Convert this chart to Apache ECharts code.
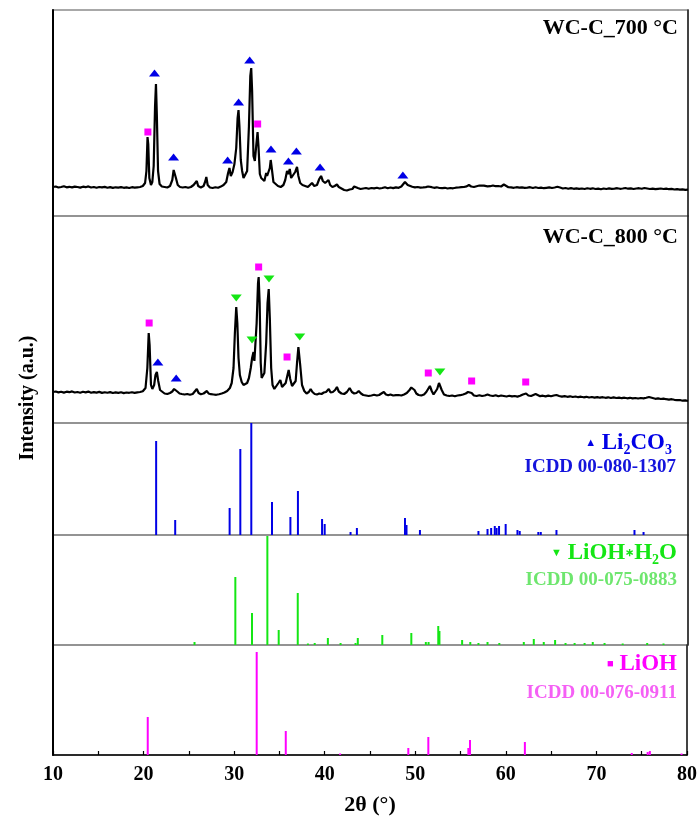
<!DOCTYPE html>
<html><head><meta charset="utf-8">
<script src="https://cdn.jsdelivr.net/npm/echarts@6/dist/echarts.min.js"></script>
<style>html,body{margin:0;padding:0;background:#fff}#c{width:700px;height:818px}</style>
</head><body><div id="c"></div>
<script>
// x-axis tick labels (2θ)
const xTickLabels = [10, 20, 30, 40, 50, 60, 70, 80];

// WC-C_700 °C pattern [2θ, intensity a.u.]
const wc700 = [[10.0,29],[10.3,29.5],[10.6,28.5],[10.9,29],[11.2,29.8],[11.5,28.7],[11.8,29.2],[12.1,28.6],[12.4,29.4],[12.7,29],[13.0,28.4],[13.3,29.3],[13.6,28.8],[13.9,29.6],[14.2,28.5],[14.5,29],[14.8,28.2],[15.1,29],[15.4,28.6],[15.7,29.1],[16.0,28.3],[16.3,28.9],[16.6,28.1],[16.9,28.7],[17.2,28.4],[17.5,28.9],[17.8,28.2],[18.1,28.6],[18.4,28],[18.7,28.8],[19.0,28.3],[19.3,28.7],[19.6,29],[19.9,30],[20.15,33],[20.3,45],[20.42,79],[20.5,72],[20.62,38],[20.8,31],[20.95,34],[21.1,50],[21.25,110],[21.35,132],[21.45,100],[21.58,45],[21.75,32],[22.0,29.5],[22.3,29],[22.6,28.5],[22.9,30],[23.15,36],[23.3,46],[23.42,48],[23.55,38],[23.75,31],[24.0,29],[24.3,28.5],[24.6,29],[24.9,28.2],[25.2,29],[25.5,31],[25.7,33],[25.85,35],[26.0,30],[26.3,28.5],[26.6,30],[26.8,35],[26.9,39],[27.05,31],[27.3,28.5],[27.6,28],[27.9,28.8],[28.2,28.2],[28.5,29.4],[28.8,31],[29.1,34],[29.3,43],[29.45,48],[29.6,40],[29.8,44],[30.0,52],[30.2,68],[30.35,98],[30.45,106],[30.55,90],[30.7,56],[30.85,45],[31.0,38],[31.2,36],[31.4,45],[31.6,90],[31.75,140],[31.85,148],[31.95,125],[32.1,60],[32.25,55],[32.4,70],[32.55,84],[32.65,70],[32.8,42],[32.95,38],[33.1,37],[33.3,35],[33.5,43],[33.6,40],[33.75,38],[33.9,48],[34.0,56],[34.1,49],[34.3,34],[34.5,32],[34.8,30],[35.1,29],[35.4,31],[35.6,36],[35.8,45],[35.95,42],[36.1,47],[36.25,38],[36.45,36],[36.7,44],[36.9,49],[37.05,40],[37.25,33],[37.5,31],[37.8,30],[38.1,29],[38.3,31],[38.55,33],[38.8,30],[39.1,31],[39.35,37],[39.55,40],[39.75,35],[40.0,33],[40.2,34],[40.37,36],[40.55,31],[40.8,29],[41.05,30],[41.3,31.5],[41.5,29],[41.8,27.5],[42.1,26],[42.4,25.5],[42.7,26.5],[43.0,27],[43.2,29.5],[43.4,31.5],[43.6,28],[43.9,27],[44.2,27.5],[44.5,28],[44.8,27.2],[45.1,28],[45.4,27.6],[45.7,28.3],[46.0,27.5],[46.3,28],[46.6,28.8],[46.9,27.8],[47.2,28.5],[47.5,27.9],[47.8,28.6],[48.1,28.2],[48.4,29.5],[48.6,31],[48.8,34],[48.95,32],[49.1,31],[49.3,30],[49.6,29.2],[49.9,28.6],[50.2,29],[50.5,28.4],[50.8,28.6],[51.1,28.9],[51.35,29.5],[51.55,30.5],[51.75,28.8],[52.0,28.2],[52.3,28.7],[52.6,28],[52.9,27.8],[53.2,28.2],[53.5,27.5],[53.8,28],[54.1,27.7],[54.4,28.3],[54.7,28.5],[55.0,28.8],[55.3,29],[55.6,29.6],[55.85,31],[56.1,29.5],[56.4,29],[56.7,29.8],[57.0,30.5],[57.2,29.4],[57.5,30.3],[57.7,31],[57.9,29.6],[58.2,29.8],[58.5,30.5],[58.8,29.8],[59.1,30],[59.4,29.5],[59.7,31.5],[59.9,29.5],[60.2,28.8],[60.5,28.6],[60.8,28.2],[61.1,28.8],[61.4,28.4],[61.7,28.6],[62.0,28.2],[62.3,28.3],[62.6,28.8],[62.9,28],[63.2,28.7],[63.5,28],[63.8,28.4],[64.1,27.8],[64.4,28.2],[64.7,28.6],[65.0,28],[65.3,28.5],[65.6,29.2],[65.9,28.5],[66.2,27.5],[66.5,28],[66.8,27.3],[67.1,27.9],[67.4,27.2],[67.7,27.6],[68.0,27.1],[68.3,27.5],[68.6,27],[68.9,27.8],[69.2,27.2],[69.5,27.7],[69.8,27],[70.1,27.4],[70.4,26.8],[70.7,27.5],[71.0,27],[71.3,27.6],[71.6,27.1],[71.9,27.4],[72.2,27.8],[72.5,27.2],[72.8,27.5],[73.1,28],[73.4,27.3],[73.7,27.6],[74.0,27],[74.3,27.5],[74.6,27.8],[74.9,27.2],[75.2,28],[75.5,27.5],[75.8,27],[76.1,27.3],[76.4,26.8],[76.7,27.2],[77.0,27.5],[77.3,27],[77.6,27.4],[77.9,26.8],[78.2,27.1],[78.5,26.5],[78.8,26.8],[79.1,26.3],[79.4,26.7],[79.7,26.2],[80.0,26.4]];

// WC-C_800 °C pattern
const wc800 = [[10.0,31],[10.3,31.5],[10.6,30.6],[10.9,31.2],[11.2,30.4],[11.5,31.3],[11.8,30.8],[12.1,31.6],[12.4,30.5],[12.7,31],[13.0,30.3],[13.3,31.2],[13.6,30.6],[13.9,31.4],[14.2,30.2],[14.5,30.9],[14.8,30.4],[15.1,31.1],[15.4,30.1],[15.7,30.8],[16.0,30.2],[16.3,30.9],[16.6,30],[16.9,30.6],[17.2,30.1],[17.5,30.7],[17.8,29.9],[18.1,30.5],[18.4,30.2],[18.7,30.8],[19.0,30.1],[19.3,30.6],[19.6,31],[19.9,31.8],[20.2,35],[20.4,55],[20.55,90],[20.65,78],[20.8,38],[20.95,34],[21.15,38],[21.3,48],[21.45,51],[21.6,42],[21.8,33],[22.0,31],[22.3,29.5],[22.6,29],[22.9,30],[23.15,31.5],[23.35,34],[23.5,35],[23.7,31.5],[23.95,29.5],[24.2,29],[24.5,28.5],[24.8,29],[25.1,28.3],[25.4,29],[25.6,31],[25.85,34],[26.05,30],[26.3,28.8],[26.6,29.5],[26.8,30.5],[26.97,32],[27.15,29.5],[27.4,28.8],[27.7,28.5],[28.0,28.2],[28.3,28.8],[28.6,29.5],[28.9,30.5],[29.2,32],[29.5,35],[29.7,40],[29.9,55],[30.05,90],[30.2,116],[30.32,100],[30.45,65],[30.6,48],[30.8,41],[31.0,38],[31.2,38],[31.4,40],[31.6,45],[31.8,55],[31.95,65],[32.1,71],[32.2,62],[32.3,60],[32.45,100],[32.6,140],[32.67,146],[32.78,120],[32.9,60],[33.0,45],[33.1,44],[33.3,50],[33.5,80],[33.65,120],[33.78,134],[33.9,105],[34.05,55],[34.2,38],[34.4,34],[34.6,36],[34.85,40],[35.06,43],[35.25,36],[35.45,35],[35.65,40],[35.85,48],[35.98,53],[36.15,44],[36.35,37],[36.55,36],[36.75,42],[36.9,60],[37.05,76],[37.12,78],[37.25,58],[37.45,38],[37.7,32],[37.95,29.5],[38.2,31],[38.4,34],[38.6,31],[38.85,29],[39.1,28.5],[39.35,29.5],[39.6,29],[39.85,30.5],[40.1,31],[40.4,34],[40.6,30.5],[40.85,31],[41.1,33],[41.3,36],[41.5,31.5],[41.8,29.5],[42.1,29],[42.4,31],[42.7,35],[42.95,31],[43.2,29.5],[43.45,30],[43.7,32],[43.95,29.5],[44.2,28],[44.5,27.5],[44.8,27],[45.1,27.5],[45.4,28.2],[45.7,27.5],[45.95,28],[46.2,29.5],[46.47,31],[46.7,28.5],[46.95,27.8],[47.2,28.5],[47.5,27.5],[47.8,27.8],[48.1,28],[48.4,27.5],[48.7,28.5],[49.0,30],[49.3,33],[49.5,35.5],[49.65,36],[49.85,33],[50.05,29.5],[50.3,28],[50.6,27.5],[50.9,28.5],[51.15,31],[51.35,34],[51.55,37],[51.75,32],[51.95,28.5],[52.15,29],[52.35,34],[52.55,40],[52.68,41],[52.85,33],[53.1,28.5],[53.4,27.5],[53.7,27],[54.0,27.5],[54.3,26.8],[54.6,27.5],[54.9,27.8],[55.2,28.5],[55.5,29.5],[55.75,31],[55.95,33],[56.15,30],[56.4,27.5],[56.7,27],[57.0,27.8],[57.3,27],[57.6,27.5],[57.9,28.5],[58.2,27.5],[58.5,27],[58.8,27.8],[59.1,26.8],[59.4,27.5],[59.7,27],[60.0,26.5],[60.3,27.2],[60.6,26.6],[60.9,27],[61.2,26.4],[61.5,27.2],[61.8,28.5],[62.0,30],[62.15,29.5],[62.4,27.5],[62.7,27],[62.95,28],[63.2,29],[63.4,27.5],[63.7,26.8],[64.0,27.3],[64.3,26.6],[64.6,27.4],[64.9,26.8],[65.2,27.5],[65.5,28],[65.8,27],[66.1,26.4],[66.4,26.9],[66.7,26.2],[67.0,26.7],[67.3,26],[67.6,26.5],[67.9,25.8],[68.2,26.3],[68.5,25.7],[68.8,26.2],[69.1,25.5],[69.4,26],[69.7,25.4],[70.0,25.9],[70.3,25.3],[70.6,25.8],[70.9,25.2],[71.2,25.7],[71.5,25],[71.8,25.6],[72.1,25],[72.4,25.4],[72.7,24.8],[73.0,25.3],[73.3,24.7],[73.6,25.2],[73.9,24.6],[74.2,25],[74.5,24.5],[74.8,25],[75.1,24.6],[75.4,25.2],[75.7,26],[75.9,26.5],[76.1,25],[76.4,24.2],[76.7,24.6],[77.0,24],[77.3,24.4],[77.6,23.8],[77.9,23.4],[78.2,23.8],[78.5,23.2],[78.8,22.8],[79.1,23],[79.4,22.3],[79.7,22.6],[80.0,22]];

// Peak markers
const m700Li2CO3 = [[21.19,143],[23.29,59],[29.25,56],[30.46,114],[31.68,156],[34.03,67],[35.95,55],[36.83,65],[39.44,49],[48.57,41]];
const m700LiOH = [[20.46,84],[32.56,92]];
const m800Li2CO3 = [[21.56,61],[23.58,45]];
const m800LiOHH2O = [[30.2,125],[31.94,83],[33.81,144],[37.2,86],[52.65,51]];
const m800LiOH = [[20.6,100],[32.67,156],[35.8,66],[51.37,50],[56.15,42],[62.11,41]];

// Reference sticks
const refLi2CO3 = [[21.37,94],[23.47,15],[29.47,27],[30.65,86],[31.86,112],[34.14,33],[36.17,18],[37.0,44],[39.66,16],[39.95,11],[42.8,3],[43.5,7],[48.8,17],[48.97,10],[50.45,5],[56.9,4],[57.9,6],[58.3,7],[58.7,9],[58.9,7],[59.17,9],[59.9,11],[61.2,5],[61.45,4],[63.5,3],[63.77,3],[65.5,5],[74.1,5],[75.1,3]];
const refLiOHH2O = [[25.6,3],[30.1,68],[31.94,32],[33.63,109],[34.88,15],[36.98,52],[38.1,1.5],[38.85,2],[40.3,7],[41.7,2],[43.35,2],[43.6,7],[46.3,10],[49.5,12],[51.1,3],[51.4,3],[52.47,19],[52.6,14],[55.1,5],[56.0,3],[56.9,2],[57.9,3],[59.2,2],[61.9,3],[63.0,6],[64.1,3],[65.35,5],[66.5,2],[67.5,2],[68.6,2],[69.5,3],[70.8,2],[72.8,1.5],[75.5,2],[77.3,1.5]];
const refLiOH = [[20.46,38],[32.49,103],[35.7,24],[41.7,1.5],[49.23,7],[51.44,18],[55.86,7],[56.04,15],[62.1,13],[73.9,2],[75.66,3],[75.9,4],[79.4,1.5]];

const FONT = '"Liberation Serif","Times New Roman",serif';
const BLUE = '#0000e6', GREEN = '#14e614', MAG = '#ff00ff';

const gridTops = [10, 216, 423, 535, 645];
const gridHeights = [206, 207, 112, 110, 110];
const yMax = [206, 207, 112, 110, 110];

const grids = [], xAxes = [], yAxes = [];
for (let i = 0; i < 5; i++) {
  grids.push({left: 53, right: 12, top: gridTops[i], height: gridHeights[i], show: true,
    borderColor: '#8c8c8c', borderWidth: 1.5, containLabel: false});
  const last = i === 4;
  xAxes.push({type: 'value', gridIndex: i, min: 10, max: 80, interval: 10, show: last,
    axisLine: {show: true, lineStyle: {color: '#000', width: 1.5}},
    axisTick: {show: true, inside: true, length: 4, lineStyle: {color: '#000', width: 1.2}},
    minorTick: {show: true, splitNumber: 2, length: 4, lineStyle: {color: '#000', width: 1.2}},
    splitLine: {show: false}, minorSplitLine: {show: false},
    axisLabel: {show: last, color: '#000', fontFamily: FONT, fontWeight: 'bold', fontSize: 20, margin: 10,
      formatter: v => xTickLabels.includes(v) ? String(v) : ''},
    name: last ? '2θ (°)' : '', nameLocation: 'middle', nameGap: 39,
    nameTextStyle: {color: '#000', fontFamily: FONT, fontWeight: 'bold', fontSize: 22}});
  yAxes.push({type: 'value', gridIndex: i, min: 0, max: yMax[i], position: 'left',
    axisLine: {show: true, lineStyle: {color: '#000', width: 2}},
    axisTick: {show: false}, axisLabel: {show: false}, splitLine: {show: false}});
  yAxes.push({type: 'value', gridIndex: i, min: 0, max: yMax[i], position: 'right',
    axisLine: {show: true, lineStyle: {color: '#222', width: 1.5}},
    axisTick: {show: false}, axisLabel: {show: false}, splitLine: {show: false}});
}

const lineS = (data, i) => ({type: 'line', xAxisIndex: i, yAxisIndex: 2*i, data, showSymbol: false,
  symbol: 'none', smooth: false, lineStyle: {color: '#000', width: 2.2}, z: 3, silent: true});
const markS = (data, i, sym, color, rot, size) => ({type: 'scatter', xAxisIndex: i, yAxisIndex: 2*i, data,
  symbol: sym, symbolRotate: rot, symbolSize: size, itemStyle: {color, opacity: 1}, z: 5, silent: true});
const stickS = (data, i, color) => ({type: 'bar', xAxisIndex: i, yAxisIndex: 2*i, data, barWidth: 2,
  itemStyle: {color}, silent: true, z: 3});

const series = [
  lineS(wc700, 0),
  markS(m700Li2CO3, 0, 'triangle', BLUE, 0, [11, 7]),
  markS(m700LiOH, 0, 'rect', MAG, 0, [7, 7]),
  lineS(wc800, 1),
  markS(m800Li2CO3, 1, 'triangle', BLUE, 0, [11, 7]),
  markS(m800LiOHH2O, 1, 'triangle', GREEN, 180, [11, 7]),
  markS(m800LiOH, 1, 'rect', MAG, 0, [7, 7]),
  stickS(refLi2CO3, 2, BLUE),
  stickS(refLiOHH2O, 3, GREEN),
  stickS(refLiOH, 4, MAG)
];

const tb = (text, x, y, fill, size, rich) => ({type: 'text', x, y, z: 10, silent: true,
  style: {text, fill, align: 'right', verticalAlign: 'middle',
    font: 'bold ' + size + 'px ' + FONT, rich}});
const richF = (color) => ({
  s: {fontSize: 11, fontWeight: 'bold', fill: color, fontFamily: FONT, lineHeight: 28, verticalAlign: 'middle'},
  f: {fontSize: 23, fontWeight: 'bold', fill: color, fontFamily: FONT, lineHeight: 28, verticalAlign: 'middle'},
  b: {fontSize: 14, fontWeight: 'bold', fill: color, fontFamily: FONT, lineHeight: 14, verticalAlign: 'bottom'}
});

const graphic = [
  tb('WC-C_700 °C', 678, 28, '#000', 22),
  tb('WC-C_800 °C', 678, 237, '#000', 22),
  tb('{s|▲} {f|Li}{b|2}{f|CO}{b|3}', 672, 443, BLUE, 23, richF(BLUE)),
  tb('ICDD 00-080-1307', 676, 467, '#1414dc', 19),
  tb('{s|▼} {f|LiOH}{s|∗}{f|H}{b|2}{f|O}', 677, 553, GREEN, 23, richF(GREEN)),
  tb('ICDD 00-075-0883', 677, 580, '#6ee66e', 19),
  tb('{s|■} {f|LiOH}', 677, 664, MAG, 23, richF(MAG)),
  tb('ICDD 00-076-0911', 677, 693, '#f560f5', 19),
  {type: 'text', x: 28, y: 398, rotation: Math.PI / 2, z: 10, silent: true,
    style: {text: 'Intensity (a.u.)', fill: '#000', align: 'center', verticalAlign: 'middle',
      font: 'bold 20px ' + FONT}}
];

const chart = echarts.init(document.getElementById('c'), null, {renderer: 'canvas'});
chart.setOption({animation: false, backgroundColor: '#fff', grid: grids, xAxis: xAxes, yAxis: yAxes,
  series, graphic});
</script></body></html>
